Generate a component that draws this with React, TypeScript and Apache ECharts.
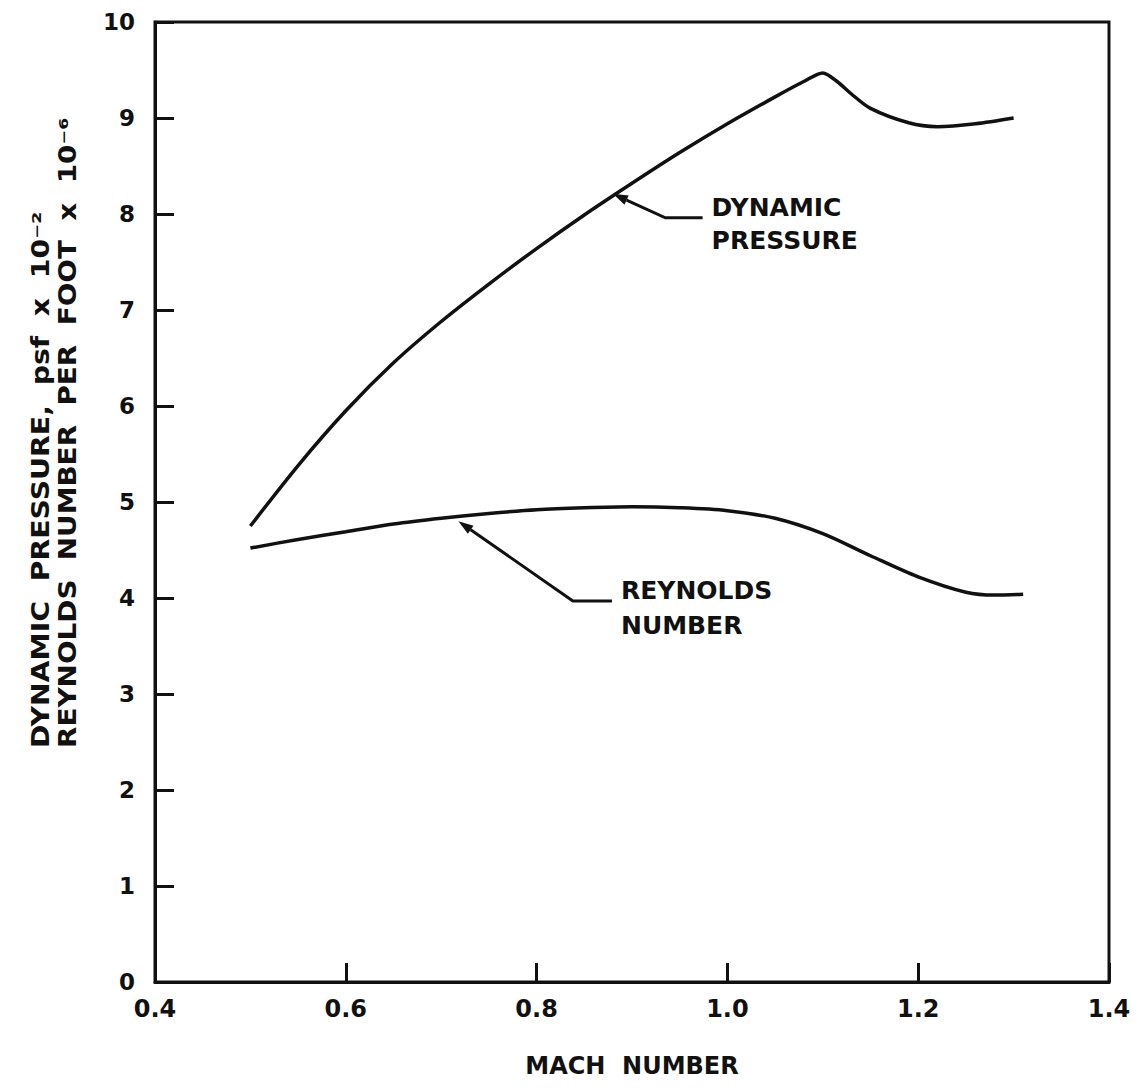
import React, { useEffect, useRef } from "react";
import * as echarts from "echarts";

const machDyn = [0.5, 0.55, 0.6, 0.65, 0.7, 0.75, 0.8, 0.85, 0.9, 0.95, 1.0, 1.05, 1.08, 1.1, 1.115, 1.13, 1.15, 1.19, 1.22, 1.26, 1.3];
const dynPressure = [4.75, 5.38, 5.95, 6.45, 6.88, 7.27, 7.64, 7.99, 8.32, 8.64, 8.94, 9.22, 9.38, 9.47, 9.38, 9.25, 9.1, 8.95, 8.91, 8.94, 9.0];

const machRey = [0.5, 0.55, 0.6, 0.65, 0.7, 0.75, 0.8, 0.85, 0.9, 0.95, 1.0, 1.05, 1.1, 1.15, 1.2, 1.25, 1.28, 1.31];
const reynolds = [4.52, 4.61, 4.69, 4.77, 4.83, 4.88, 4.92, 4.94, 4.95, 4.94, 4.91, 4.83, 4.67, 4.44, 4.22, 4.06, 4.03, 4.04];

const xTicks = [0.4, 0.6, 0.8, 1.0, 1.2, 1.4];
const yTicks = [0, 1, 2, 3, 4, 5, 6, 7, 8, 9, 10];

const yTitle1 = "DYNAMIC  PRESSURE,  psf  x  10⁻²";
const yTitle2 = "REYNOLDS  NUMBER  PER  FOOT  x  10⁻⁶";
const xTitle = "MACH  NUMBER";

// annotation anchors in data coordinates: tip, elbow, end
const dynNote = { tip: [0.88, 8.21], elbow: [0.935, 7.96], end: [0.974, 7.96], lines: ["DYNAMIC", "PRESSURE"] };
const reyNote = { tip: [0.718, 4.8], elbow: [0.838, 3.97], end: [0.879, 3.97], lines: ["REYNOLDS", "NUMBER"] };

const FONT = "'DejaVu Sans', 'Liberation Sans', sans-serif";
const INK = "#111";

export default function App() {
  const ref = useRef<HTMLDivElement>(null);
  useEffect(() => {
    const chart = echarts.init(ref.current as HTMLDivElement, null, { renderer: "svg" });
    chart.setOption({
      animation: false,
      backgroundColor: "#fff",
      grid: {
        left: 155,
        top: 22,
        right: 39,
        bottom: 106,
        show: true,
        borderColor: INK,
        borderWidth: 3,
        backgroundColor: "transparent",
      },
      xAxis: {
        type: "value",
        min: xTicks[0],
        max: xTicks[xTicks.length - 1],
        interval: 0.2,
        name: xTitle,
        nameLocation: "middle",
        nameGap: 72,
        nameTextStyle: { fontFamily: FONT, fontWeight: "bold", fontSize: 24, color: INK },
        axisLine: { show: true, lineStyle: { color: INK, width: 3 } },
        axisTick: { show: true, inside: true, length: 19, lineStyle: { color: INK, width: 3 } },
        splitLine: { show: false },
        axisLabel: {
          margin: 15,
          fontFamily: FONT,
          fontWeight: "bold",
          fontSize: 24,
          color: INK,
          formatter: (v: number) => v.toFixed(1),
        },
      },
      yAxis: {
        type: "value",
        min: yTicks[0],
        max: yTicks[yTicks.length - 1],
        interval: 1,
        axisLine: { show: true, lineStyle: { color: INK, width: 3 } },
        axisTick: { show: true, inside: true, length: 19, lineStyle: { color: INK, width: 3 } },
        splitLine: { show: false },
        axisLabel: {
          margin: 20,
          fontFamily: FONT,
          fontWeight: "bold",
          fontSize: 23,
          color: INK,
        },
      },
      series: [
        {
          name: "DYNAMIC PRESSURE",
          type: "line",
          data: machDyn.map((m, i) => [m, dynPressure[i]]),
          smooth: 0.3,
          showSymbol: false,
          symbol: "none",
          lineStyle: { color: INK, width: 3.5 },
        },
        {
          name: "REYNOLDS NUMBER",
          type: "line",
          data: machRey.map((m, i) => [m, reynolds[i]]),
          smooth: 0.3,
          showSymbol: false,
          symbol: "none",
          lineStyle: { color: INK, width: 3.5 },
        },
      ],
    });

    const px = (p: number[]) => chart.convertToPixel({ gridIndex: 0 }, p) as number[];
    const graphics: any[] = [];
    const addNote = (note: any, dy1: number, dy2: number) => {
      const t = px(note.tip);
      const e = px(note.elbow);
      const n = px(note.end);
      const dx = e[0] - t[0];
      const dy = e[1] - t[1];
      const len = Math.sqrt(dx * dx + dy * dy);
      const ux = dx / len;
      const uy = dy / len;
      const bx = t[0] + ux * 15;
      const by = t[1] + uy * 15;
      const nx = -uy;
      const ny = ux;
      graphics.push({
        type: "polygon",
        shape: { points: [[t[0], t[1]], [bx + nx * 5, by + ny * 5], [bx - nx * 5, by - ny * 5]] },
        style: { fill: INK },
      });
      graphics.push({
        type: "polyline",
        shape: { points: [[bx, by], e, n] },
        style: { stroke: INK, lineWidth: 3, fill: null },
      });
      graphics.push({
        type: "text",
        x: n[0] + 9,
        y: n[1] + dy1,
        style: { text: note.lines[0], font: `bold 25px ${FONT}`, fill: INK, textAlign: "left", textVerticalAlign: "middle" },
      });
      graphics.push({
        type: "text",
        x: n[0] + 9,
        y: n[1] + dy2,
        style: { text: note.lines[1], font: `bold 25px ${FONT}`, fill: INK, textAlign: "left", textVerticalAlign: "middle" },
      });
    };
    addNote(dynNote, -10, 23);
    addNote(reyNote, -10, 25);

    graphics.push({
      type: "text",
      x: 41,
      y: 748,
      rotation: Math.PI / 2,
      scaleX: 1.18,
      style: { text: yTitle1, font: `bold 24px ${FONT}`, fill: INK, textAlign: "left", textVerticalAlign: "middle" },
    });
    graphics.push({
      type: "text",
      x: 68,
      y: 748,
      rotation: Math.PI / 2,
      scaleX: 1.16,
      style: { text: yTitle2, font: `bold 24px ${FONT}`, fill: INK, textAlign: "left", textVerticalAlign: "middle" },
    });

    chart.setOption({ graphic: graphics });
    return () => chart.dispose();
  }, []);
  return (
    <div
      ref={ref}
      style={{ position: "fixed", left: 0, top: 0, width: 1148, height: 1088, background: "#fff" }}
    />
  );
}
